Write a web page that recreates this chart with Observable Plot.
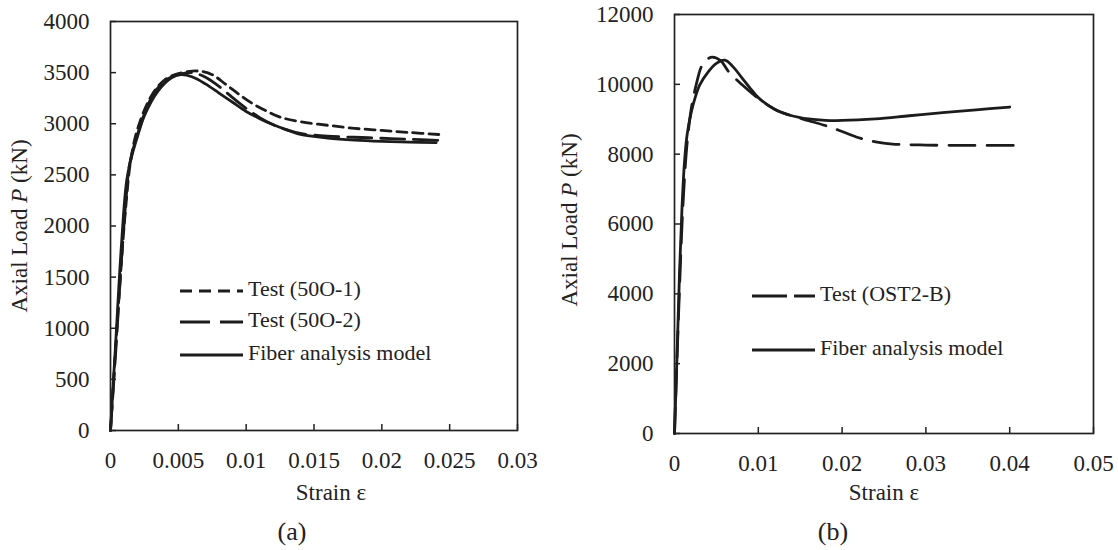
<!DOCTYPE html>
<html><head><meta charset="utf-8">
<script src="https://cdn.jsdelivr.net/npm/d3@7"></script>
<script src="https://cdn.jsdelivr.net/npm/@observablehq/plot@0.6"></script>
<style>
body{margin:0;background:#fff;}
#wrap{position:relative;width:1118px;height:550px;font-family:"Liberation Serif","Times New Roman",serif;color:#222;overflow:hidden;}
#wrap > svg{position:absolute;overflow:visible;}
</style></head><body><div id="wrap"></div>
<script>
// ---------- Panel (a) data ----------
const aStrainTest1 = [0, 0.0003, 0.0007, 0.0011, 0.0015, 0.002, 0.003, 0.004, 0.005, 0.006, 0.0068, 0.0075, 0.0085, 0.0095, 0.0105, 0.0115, 0.0125, 0.014, 0.016, 0.018, 0.020, 0.022, 0.0242];
const aLoadTest1   = [0, 650, 1450, 2150, 2650, 2950, 3270, 3430, 3490, 3515, 3510, 3480, 3385, 3285, 3195, 3125, 3065, 3020, 2985, 2955, 2935, 2915, 2895];
const aStrainTest2 = [0, 0.0004, 0.0008, 0.0012, 0.0014, 0.002, 0.003, 0.004, 0.005, 0.006, 0.007, 0.008, 0.009, 0.010, 0.011, 0.012, 0.013, 0.014, 0.016, 0.018, 0.020, 0.022, 0.0242];
const aLoadTest2   = [0, 800, 1650, 2350, 2600, 2900, 3250, 3420, 3480, 3500, 3455, 3365, 3255, 3150, 3060, 2990, 2940, 2905, 2878, 2868, 2858, 2848, 2838];
const aStrainModel = [0, 0.0004, 0.0008, 0.0012, 0.0016, 0.002, 0.0025, 0.0035, 0.0045, 0.0052, 0.006, 0.007, 0.008, 0.009, 0.010, 0.011, 0.012, 0.013, 0.014, 0.016, 0.018, 0.020, 0.022, 0.024];
const aLoadModel   = [0, 900, 1800, 2450, 2700, 2880, 3080, 3320, 3450, 3480, 3460, 3390, 3300, 3210, 3120, 3050, 2990, 2940, 2895, 2860, 2840, 2828, 2820, 2815];
const aXTicks = [0, 0.005, 0.01, 0.015, 0.02, 0.025, 0.03];
const aYTicks = [0, 500, 1000, 1500, 2000, 2500, 3000, 3500, 4000];

// ---------- Panel (b) data ----------
const bStrainTest  = [0, 0.0005, 0.001, 0.0015, 0.002, 0.0027, 0.0032, 0.0038, 0.0045, 0.0055, 0.0065, 0.008, 0.010, 0.012, 0.014, 0.016, 0.018, 0.020, 0.022, 0.024, 0.026, 0.030, 0.035, 0.0405];
const bLoadTest    = [0, 3500, 6500, 8300, 9300, 10100, 10500, 10700, 10780, 10680, 10350, 10000, 9600, 9280, 9100, 8960, 8820, 8650, 8470, 8350, 8290, 8260, 8250, 8250];
const bStrainModel = [0, 0.0003, 0.0006, 0.0009, 0.0012, 0.0015, 0.002, 0.0025, 0.003, 0.004, 0.005, 0.006, 0.007, 0.008, 0.009, 0.010, 0.012, 0.014, 0.016, 0.018, 0.020, 0.024, 0.028, 0.032, 0.036, 0.040];
const bLoadModel   = [0, 2200, 4600, 6500, 7800, 8550, 9200, 9650, 9980, 10350, 10600, 10690, 10500, 10200, 9900, 9620, 9280, 9100, 9010, 8970, 8965, 9010, 9100, 9190, 9270, 9350];
const bXTicks = [0, 0.01, 0.02, 0.03, 0.04, 0.05];
const bYTicks = [0, 2000, 4000, 6000, 8000, 10000, 12000];

const INK = "#1c1c1c";
const zip = (xs, ys) => xs.map((x, i) => ({x, y: ys[i]}));

function panel({ml, mr, mt, mb, xDomain, yDomain, xTicks, yTicks, series}) {
  return Plot.plot({
    width: 559, height: 480,
    marginLeft: ml, marginRight: mr, marginTop: mt, marginBottom: mb,
    style: {fontFamily: '"Liberation Serif","Times New Roman",serif', background: "transparent", color: "#222"},
    x: {domain: xDomain, label: null},
    y: {domain: yDomain, label: null},
    marks: [
      ...series.map(s => Plot.line(zip(s.xs, s.ys), {x: "x", y: "y", stroke: INK, strokeWidth: 2.8, strokeDasharray: s.dash, curve: "catmull-rom"})),
      Plot.axisX({ticks: xTicks, tickSize: -6, tickFormat: () => "", stroke: "#222", strokeWidth: 1.5, label: null}),
      Plot.axisX({ticks: xTicks, tickSize: 0, tickPadding: 21, tickFormat: d => String(d), fontSize: 23, fill: "#222", label: null}),
      Plot.axisY({ticks: yTicks, tickSize: -6, tickFormat: () => "", stroke: "#222", strokeWidth: 1.5, label: null}),
      Plot.axisY({ticks: yTicks, tickSize: 0, tickPadding: 21, tickFormat: d => String(d), fontSize: 23, fill: "#222", label: null}),
      Plot.frame({stroke: "#222", strokeWidth: 1.7})
    ]
  });
}

const wrap = document.getElementById("wrap");
const pa = panel({ml: 110, mr: 42, mt: 21, mb: 50, xDomain: [0, 0.03], yDomain: [0, 4000], xTicks: aXTicks, yTicks: aYTicks,
  series: [
    {xs: aStrainTest1, ys: aLoadTest1, dash: "10,6"},
    {xs: aStrainTest2, ys: aLoadTest2, dash: "24,9"},
    {xs: aStrainModel, ys: aLoadModel, dash: null}
  ]});
pa.style.left = "0px"; pa.style.top = "0px";
wrap.appendChild(pa);

const pb = panel({ml: 115, mr: 25, mt: 14, mb: 47, xDomain: [0, 0.05], yDomain: [0, 12000], xTicks: bXTicks, yTicks: bYTicks,
  series: [
    {xs: bStrainTest, ys: bLoadTest, dash: "26,12"},
    {xs: bStrainModel, ys: bLoadModel, dash: null}
  ]});
pb.style.left = "559px"; pb.style.top = "0px";
wrap.appendChild(pb);

// ---------- overlay: axis titles, captions, legends ----------
const ov = d3.select(wrap).append("svg")
  .attr("width", 1118).attr("height", 550)
  .style("left", "0px").style("top", "0px")
  .attr("font-family", '"Liberation Serif","Times New Roman",serif')
  .attr("fill", "#222");

function yTitle(x, y) {
  const t = ov.append("text").attr("transform", `translate(${x},${y}) rotate(-90)`)
    .attr("text-anchor", "middle").attr("dominant-baseline", "middle").attr("font-size", 23);
  t.append("tspan").text("Axial Load ");
  t.append("tspan").attr("font-style", "italic").text("P");
  t.append("tspan").text(" (kN)");
}
yTitle(22, 226);
yTitle(572, 220);

ov.append("text").attr("x", 331).attr("y", 495).attr("text-anchor", "middle").attr("dominant-baseline", "middle").attr("font-size", 23).text("Strain ε");
ov.append("text").attr("x", 884).attr("y", 495).attr("text-anchor", "middle").attr("dominant-baseline", "middle").attr("font-size", 23).text("Strain ε");
ov.append("text").attr("x", 292).attr("y", 534).attr("text-anchor", "middle").attr("dominant-baseline", "middle").attr("font-size", 26).text("(a)");
ov.append("text").attr("x", 833).attr("y", 534).attr("text-anchor", "middle").attr("dominant-baseline", "middle").attr("font-size", 26).text("(b)");

function legendItem(x1, x2, y, dash, label) {
  ov.append("line").attr("x1", x1).attr("x2", x2).attr("y1", y).attr("y2", y)
    .attr("stroke", INK).attr("stroke-width", 3).attr("stroke-dasharray", dash);
  ov.append("text").attr("x", x2 + 5).attr("y", y).attr("dominant-baseline", "middle").attr("font-size", 22).text(label);
}
legendItem(180, 243, 291, "12,7", "Test (50O-1)");
legendItem(180, 243, 322, "30,10", "Test (50O-2)");
legendItem(180, 243, 355, null, "Fiber analysis model");
legendItem(752, 815, 296, "35,7", "Test (OST2-B)");
legendItem(752, 815, 350, null, "Fiber analysis model");
</script>
</body></html>
